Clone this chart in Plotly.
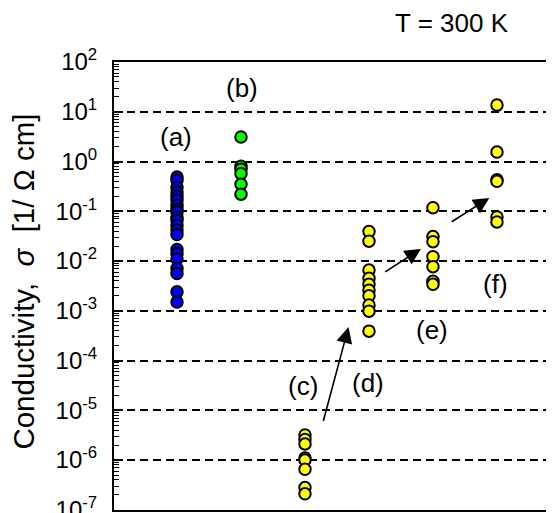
import math
import plotly.graph_objects as go

# ---------------- data ----------------
group_labels = ["(a)", "(b)", "(c)", "(d)", "(e)", "(f)"]
group_x = [1, 2, 3, 4, 5, 6]

sigma_a = [0.49, 0.42, 0.30, 0.245, 0.20, 0.166, 0.132, 0.11, 0.097, 0.077,
           0.066, 0.052, 0.042, 0.034, 0.017, 0.014, 0.011, 0.0071, 0.0056,
           0.0024, 0.0015]
sigma_b = [3.1, 0.8, 0.7, 0.57, 0.35, 0.22]
sigma_c = [3.2e-6, 2.6e-6, 2.1e-6, 1.1e-6, 1.0e-6, 6.5e-7, 2.8e-7, 2.1e-7]
sigma_d = [0.039, 0.025, 0.0066, 0.0045, 0.0034, 0.0026, 0.0020, 0.0013,
           0.00098, 0.00039]
sigma_e = [0.118, 0.031, 0.0245, 0.0122, 0.0077, 0.0039, 0.0034]
sigma_f = [13.6, 1.55, 0.43, 0.40, 0.077, 0.061]
series = [sigma_a, sigma_b, sigma_c, sigma_d, sigma_e, sigma_f]
colors = ["#0000ff", "#00ff00", "#ffff00", "#ffff00", "#ffff00", "#ffff00"]

tick_vals = [1e-7, 1e-6, 1e-5, 1e-4, 1e-3, 1e-2, 1e-1, 1e0, 1e1, 1e2]
tick_text = ["10<sup>-7</sup>", "10<sup>-6</sup>", "10<sup>-5</sup>", "10<sup>-4</sup>",
             "10<sup>-3</sup>", "10<sup>-2</sup>", "10<sup>-1</sup>", "10<sup>0</sup>",
             "10<sup>1</sup>", "10<sup>2</sup>"]

# group label positions (x, sigma)
label_x = [0.98, 2.01, 2.97, 3.98, 4.98, 5.97]
label_y = [3.1, 29.5, 3.1e-5, 3.5e-5, 4.1e-4, 3.5e-3]

# arrows: (tail x, tail sigma) -> (head x, head sigma)
arrow_tail_x = [3.28, 4.23, 5.27]
arrow_tail_y = [5.7e-6, 5.8e-3, 5.9e-2]
arrow_head_x = [3.68, 4.81, 5.88]
arrow_head_y = [4.7e-4, 1.75e-2, 1.85e-1]

FONT = "Liberation Sans, Arial, sans-serif"
NB = "\u00a0"

fig = go.Figure()
for xs, vals, col in zip(group_x, series, colors):
    fig.add_trace(go.Scatter(
        x=[xs] * len(vals), y=vals, mode="markers",
        marker=dict(size=11.5, color=col, line=dict(color="black", width=2)),
        showlegend=False, hoverinfo="y"))

annotations = []
for t, xx, yy in zip(group_labels, label_x, label_y):
    annotations.append(dict(x=xx, y=math.log10(yy), xref="x", yref="y", text=t,
                            xanchor="center", yanchor="middle",
                            showarrow=False, font=dict(size=26, color="black", family=FONT)))
for tx, ty, hx, hy in zip(arrow_tail_x, arrow_tail_y, arrow_head_x, arrow_head_y):
    annotations.append(dict(x=hx, y=math.log10(hy), ax=tx, ay=math.log10(ty),
                            xref="x", yref="y", axref="x", ayref="y", text="",
                            showarrow=True, arrowhead=2, arrowsize=2.0, arrowwidth=1.6,
                            arrowcolor="black"))
annotations.append(dict(x=0.7538, y=1.0864, xref="paper", yref="paper", text="T = 300 K",
                        xanchor="center", yanchor="middle",
                        showarrow=False, font=dict(size=26, color="black", family=FONT)))
annotations.append(dict(x=-0.2017, y=0.509, xref="paper", yref="paper",
                        text="Conductivity," + NB * 2 + "<i>σ</i>" + NB * 2 + "[1/" + NB + "Ω" + NB + "cm]",
                        textangle=-90, xanchor="center", yanchor="middle",
                        showarrow=False, font=dict(size=29.5, color="black", family=FONT)))

fig.update_layout(
    width=554, height=513,
    margin=dict(l=106, r=0, t=54, b=11),
    paper_bgcolor="white", plot_bgcolor="white",
    font=dict(family=FONT, color="black"),
    annotations=annotations,
    xaxis=dict(range=[0.0156, 7.016], showticklabels=False, ticks="", showgrid=False,
               zeroline=False, showline=True, linecolor="black", linewidth=2,
               mirror=True, automargin=False),
    yaxis=dict(type="log", range=[-7.004, 2], tickmode="array", tickvals=tick_vals,
               ticktext=tick_text, ticks="inside", ticklen=9, tickwidth=1.5,
               tickcolor="black", ticklabelstandoff=10, automargin=False,
               ticklabeloverflow="allow",
               tickfont=dict(size=24, color="black", family=FONT),
               showline=True, linecolor="black", linewidth=2,
               showgrid=True, gridcolor="black", gridwidth=1.5, griddash="8px,5px",
               zeroline=False,
               minor=dict(ticks="inside", ticklen=5, tickwidth=1, tickcolor="black",
                          dtick="D1", showgrid=False)),
)

fig.write_html("out.html")
